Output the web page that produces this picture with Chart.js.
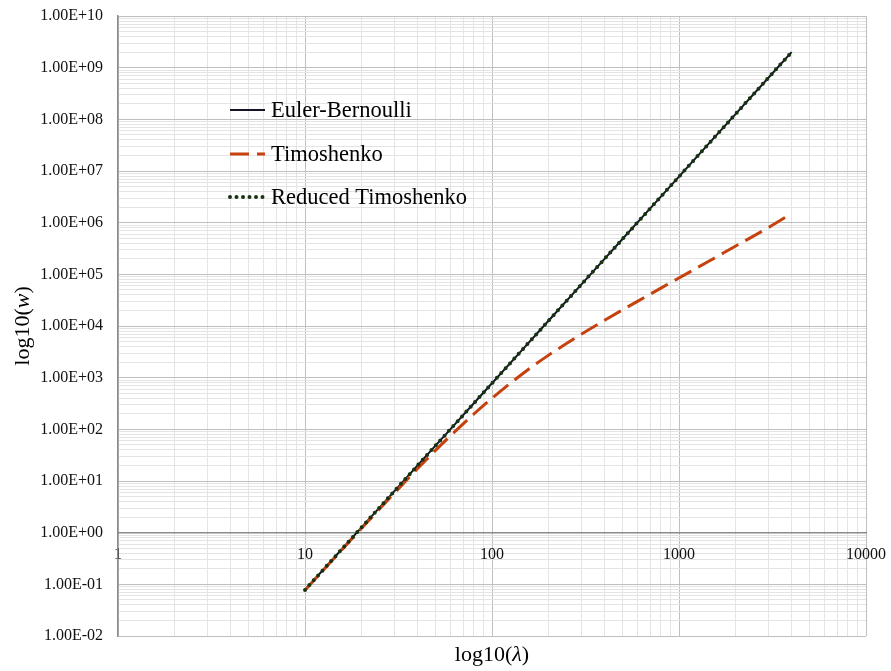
<!DOCTYPE html>
<html lang="en">
<head>
  <meta charset="UTF-8" />
  <title>log10(w) vs log10(λ)</title>
  <script src="https://cdn.jsdelivr.net/npm/chart.js"></script>
  <style>
    html, body {
      margin: 0;
      padding: 0;
      background: #fff;
    }
    #wrap {
      width: 891px;
      height: 671px;
    }
  </style>
</head>
<body>
  <div id="wrap"><canvas id="chart"></canvas></div>

  <script>
    // values
    const lambda = [10, 15, 20, 30, 40, 50, 60, 80, 100, 150, 200, 300, 400, 500, 600, 800, 1000, 1500, 2000, 3000, 4000];
    const eulerBernoulli = [0.078, 0.395, 1.25, 6.32, 20.0, 48.8, 101, 320, 780, 3950, 12480, 63200, 199700, 487500, 1.01e6, 3.2e6, 7.8e6, 3.95e7, 1.25e8, 6.32e8, 2.0e9];
    const timoshenko = [0.077, 0.385, 1.2, 5.8, 17.4, 39.5, 75, 198, 400, 1290, 2700, 6900, 12900, 20600, 30000, 54000, 85000, 194000, 350000, 800000, 1.5e6];
    const reducedTimoshenko = [0.078, 0.395, 1.25, 6.32, 20.0, 48.8, 101, 320, 780, 3950, 12480, 63200, 199700, 487500, 1.01e6, 3.2e6, 7.8e6, 3.95e7, 1.25e8, 6.32e8, 2.0e9];

    const xTickLabels = ["1", "10", "100", "1000", "10000"];
    const yTickLabels = ["1.00E-02", "1.00E-01", "1.00E+00", "1.00E+01", "1.00E+02", "1.00E+03", "1.00E+04",
      "1.00E+05", "1.00E+06", "1.00E+07", "1.00E+08", "1.00E+09", "1.00E+10"];

    const serif = "'Liberation Serif', 'Times New Roman', serif";

    function toPoints(ys) {
      return lambda.map((x, i) => ({ x: x, y: ys[i] }));
    }

    // 1..9 x 10^n ticks, like the spreadsheet's minor grid
    function logTicks(minExp, maxExp) {
      const t = [];
      for (let e = minExp; e < maxExp; e++) {
        for (let s = 1; s <= 9; s++) t.push({ value: Number((s * Math.pow(10, e)).toPrecision(3)) });
      }
      t.push({ value: Math.pow(10, maxExp) });
      return t;
    }

    function isDecade(v) {
      const l = Math.log10(v);
      return Math.abs(l - Math.round(l)) < 1e-9;
    }

    function decadeLabel(labels, minExp) {
      return function (value) {
        if (!isDecade(value)) return "";
        return labels[Math.round(Math.log10(value)) - minExp] || "";
      };
    }

    const gridColor = (ctx) => (ctx.tick && isDecade(ctx.tick.value)) ? "#bfbfbf" : "#e4e4e4";

    // legend drawn inside the plot, like the original
    const innerLegend = {
      id: "innerLegend",
      afterDraw(chart) {
        const c = chart.ctx;
        const rows = [110, 154, 197];
        chart.data.datasets.forEach((ds, i) => {
          const y = rows[i];
          c.save();
          c.beginPath();
          c.strokeStyle = ds.borderColor;
          c.lineWidth = ds.borderWidth;
          c.lineCap = ds.borderCapStyle || "butt";
          c.setLineDash(ds.legendDash || []);
          c.moveTo(230, y);
          c.lineTo(265, y);
          c.stroke();
          c.setLineDash([]);
          c.fillStyle = "#000";
          c.font = "22.5px " + serif;
          c.textBaseline = "middle";
          c.textAlign = "left";
          c.fillText(ds.label, 271, y + 1);
          c.restore();
        });
      }
    };

    // axis titles with italic variable
    function drawMixed(c, parts, x, y) {
      let total = 0;
      parts.forEach(p => { c.font = (p.it ? "italic " : "") + "22px " + serif; total += c.measureText(p.t).width; });
      let cx = x - total / 2;
      parts.forEach(p => {
        c.font = (p.it ? "italic " : "") + "22px " + serif;
        c.fillText(p.t, cx, y);
        cx += c.measureText(p.t).width;
      });
    }

    const axisTitles = {
      id: "axisTitles",
      afterDraw(chart) {
        const c = chart.ctx;
        const a = chart.chartArea;
        c.save();
        c.fillStyle = "#000";
        c.textBaseline = "alphabetic";
        c.textAlign = "left";
        drawMixed(c, [{ t: "log10(" }, { t: "λ", it: true }, { t: ")" }], (a.left + a.right) / 2, 661);
        c.translate(29, (a.top + a.bottom) / 2);
        c.rotate(-Math.PI / 2);
        drawMixed(c, [{ t: "log10(" }, { t: "w", it: true }, { t: ")" }], 0, 0);
        c.restore();
      }
    };

    new Chart(document.getElementById("chart"), {
      type: "line",
      data: {
        datasets: [{
          label: "Euler-Bernoulli",
          data: toPoints(eulerBernoulli),
          borderColor: "#141428",
          borderWidth: 2,
          pointRadius: 0,
          order: 2
        }, {
          label: "Timoshenko",
          data: toPoints(timoshenko),
          borderColor: "#c5420f",
          borderWidth: 3,
          borderDash: [19, 8],
          legendDash: [19, 8],
          pointRadius: 0,
          cubicInterpolationMode: "monotone",
          order: 1
        }, {
          label: "Reduced Timoshenko",
          data: toPoints(reducedTimoshenko),
          borderColor: "#17330f",
          borderWidth: 4,
          borderDash: [0, 6.5],
          legendDash: [0, 6.5],
          borderCapStyle: "round",
          pointRadius: 0,
          order: 0
        }]
      },
      options: {
        responsive: true,
        maintainAspectRatio: false,
        animation: false,
        layout: { padding: { top: 16, right: 25, bottom: 35, left: 0 } },
        plugins: {
          legend: { display: false },
          tooltip: { enabled: false }
        },
        scales: {
          x: {
            type: "logarithmic",
            min: 1,
            max: 10000,
            position: { y: 1 },
            afterBuildTicks: (scale) => { scale.ticks = logTicks(0, 4); },
            afterFit: (scale) => { scale.height = 0; scale.paddingLeft = 0; scale.paddingRight = 0; },
            grid: { color: gridColor, drawTicks: false },
            border: { color: "#8a8a8a", width: 1.5 },
            ticks: {
              autoSkip: false,
              maxRotation: 0,
              padding: 13,
              color: "#111",
              font: { family: serif, size: 16 },
              callback: decadeLabel(xTickLabels, 0)
            }
          },
          y: {
            type: "logarithmic",
            min: 0.01,
            max: 1e10,
            afterBuildTicks: (scale) => { scale.ticks = logTicks(-2, 10); },
            afterFit: (scale) => { scale.width = 118; scale.paddingTop = 0; scale.paddingBottom = 0; },
            grid: { color: gridColor, drawTicks: false },
            border: { color: "#8a8a8a", width: 1.5 },
            ticks: {
              autoSkip: false,
              padding: 15,
              color: "#111",
              font: { family: serif, size: 16 },
              callback: decadeLabel(yTickLabels, -2)
            }
          }
        }
      },
      plugins: [innerLegend, axisTitles]
    });
  </script>
</body>
</html>
